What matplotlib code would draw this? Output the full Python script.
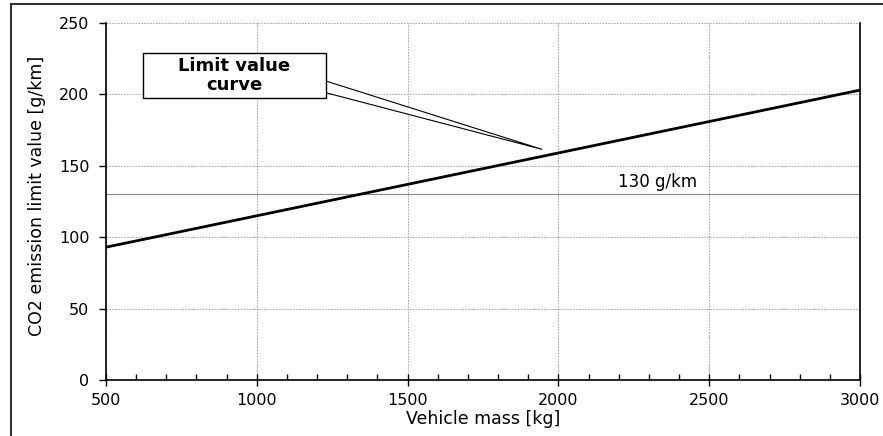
import numpy as np
import matplotlib.pyplot as plt
from matplotlib.patches import Rectangle, Polygon
from matplotlib.lines import Line2D

plt.rcParams['font.family'] = ['DejaVu Sans']

# limit value curve
mass = [500, 3000]
co2_limit = [93, 203]
target_130 = 130

fig = plt.figure(figsize=(8.83, 4.36), dpi=100)
ax = fig.add_axes([106/883, 1 - 380/436, 754/883, 357/436])

ax.set_xlim(500, 3000)
ax.set_ylim(0, 250)
ax.set_xticks(np.arange(500, 3001, 500))
ax.set_xticks(np.arange(500, 3001, 100), minor=True)
ax.set_yticks(np.arange(0, 251, 50))

ax.grid(True, which='major', color='#999999', linestyle=(0, (2, 1.5)), linewidth=0.6)
ax.set_axisbelow(True)

ax.spines['top'].set_visible(False)
for s in ['left', 'bottom', 'right']:
    ax.spines[s].set_linewidth(1.2)
    ax.spines[s].set_color('black')

ax.tick_params(axis='x', which='major', direction='inout', length=8, width=1, labelsize=11.5, pad=5)
ax.tick_params(axis='x', which='minor', direction='in', length=4, width=1)
ax.tick_params(axis='y', which='major', direction='out', length=5, width=1, labelsize=11.5, pad=7)

# 130 g/km reference line
ax.axhline(target_130, color='#888888', linewidth=0.8)
ax.text(2330, 138.5, '130 g/km', fontsize=12, ha='center', va='center')

ax.plot(mass, co2_limit, color='black', linewidth=2)

ax.set_xlabel('Vehicle mass [kg]', fontsize=12.5, va='top')
ax.set_ylabel('CO2 emission limit value [g/km]', fontsize=12.5)
ax.xaxis.set_label_coords((483 - 106) / 754, -(410 - 380) / 357)
ax.yaxis.set_label_coords(-(106 - 46) / 754, 0.5 - (196 - (380 + 23) / 2) / 357)

# callout box with wedge pointer
box_x0, box_x1 = 623, 1229
box_y0, box_y1 = 197.5, 229
tip = (1946, 161.5)
wedge = Polygon([(box_x1 - 20, 210.7), tip, (box_x1 - 20, 202.3)], closed=True,
                facecolor='white', edgecolor='black', linewidth=0.8, zorder=4)
ax.add_patch(wedge)
ax.add_patch(Rectangle((box_x0, box_y0), box_x1 - box_x0, box_y1 - box_y0,
                       facecolor='white', edgecolor='black', linewidth=1, zorder=5))
ax.text((box_x0 + box_x1) / 2, (box_y0 + box_y1) / 2, 'Limit value\ncurve',
        fontsize=13, fontweight='bold', ha='center', va='center', zorder=6,
        linespacing=1.1)

# figure frame (left and top edges)
fig.add_artist(Line2D([11/883, 11/883], [0, 1 - 4/436], color='#333333', linewidth=1.5))
fig.add_artist(Line2D([11/883, 1], [1 - 4/436, 1 - 4/436], color='#333333', linewidth=1.5))

fig.savefig('out.png', dpi=100)
